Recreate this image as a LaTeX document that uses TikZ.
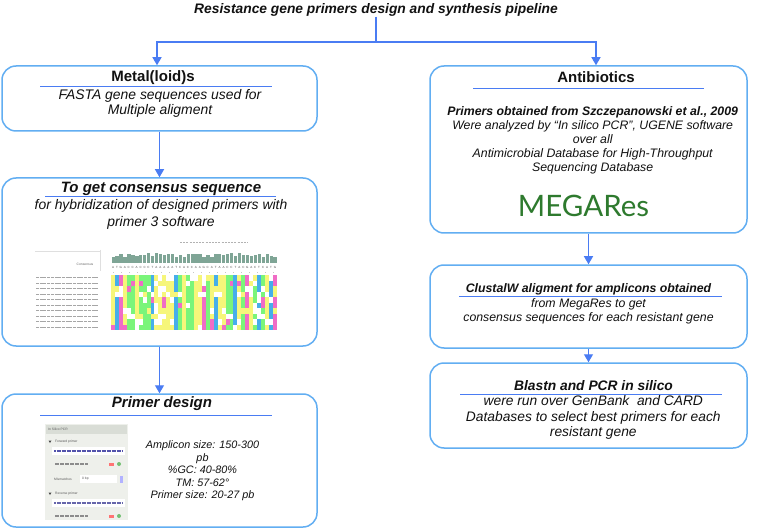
\documentclass[tikz,border=0pt]{standalone}
\usepackage{fontspec}
\setmainfont{Liberation Sans}
\newfontfamily\latofont{Lato}
\usetikzlibrary{arrows.meta}
\definecolor{boxblue}{HTML}{62AEF2}
\definecolor{arrblue}{HTML}{4A7CF3}
\definecolor{megagreen}{HTML}{2E7A2E}
\definecolor{nucA}{HTML}{F6F67A}
\definecolor{nucC}{HTML}{7AF57A}
\definecolor{nucG}{HTML}{F06CC6}
\definecolor{nucT}{HTML}{46AEEA}
\definecolor{barcol}{HTML}{7FA596}
\definecolor{panel}{HTML}{EEF0EB}
\definecolor{panelhead}{HTML}{D9DDD6}
\definecolor{txt}{HTML}{111111}
\newcommand\fsz[2]{\fontsize{#1}{#2}\selectfont}
\newcommand\hashmod[2]{\edef#1{\the\numexpr #2 - 100*((#2-50)/100)\relax}}
\tikzset{
  box/.style={draw=boxblue, line width=1.5pt, rounded corners=14pt, inner sep=0pt, fill=white},
  arr/.style={draw=arrblue, line width=1.3pt, -{Triangle[width=9pt,length=8pt]}},
  conn/.style={draw=arrblue, line width=1.3pt},
  uline/.style={draw=arrblue, line width=1pt},
  txtnode/.style={inner sep=0pt, text=txt, align=center},
  maintitle/.style={txtnode, font=\fsz{13.8}{16}\bfseries\itshape},
  htitle/.style={txtnode, font=\fsz{15}{17}\bfseries},
  htitleI/.style={txtnode, font=\fsz{15}{17}\bfseries\itshape},
  lbody/.style={txtnode, font=\fsz{13.9}{15.3}\itshape},
  rbody/.style={txtnode, font=\fsz{12.3}{14.2}\itshape},
  amp/.style={txtnode, font=\fsz{10.8}{12.5}\itshape},
  tinytxt/.style={inner sep=0pt, text=black!65, font=\fsz{3.3}{4}, anchor=west},
}
\begin{document}
\begin{tikzpicture}[x=1pt,y=-1pt]
\useasboundingbox (0,0) rectangle (757,529);
\fill[white] (0,0) rectangle (757,529);

% ---------- boxes ----------
\node[box, minimum width=315pt, minimum height=65pt]  (metal)   at (159.5,98.5) {};
\node[box, minimum width=315pt, minimum height=168pt] (cons)    at (159.5,262) {};
\node[box, minimum width=315pt, minimum height=133pt] (primer)  at (159.5,460.5) {};
\node[box, minimum width=317pt, minimum height=167pt] (antib)   at (588.5,149.5) {};
\node[box, minimum width=317pt, minimum height=83pt]  (clustal) at (588.5,306.5) {};
\node[box, minimum width=317pt, minimum height=85pt]  (blast)   at (588.5,405.5) {};

% ---------- title and connectors ----------
\node[maintitle] (title) at (376,10) {Resistance gene primers design and synthesis pipeline};
\coordinate (split) at (376,42);
\draw[conn] (title.south) -- (split);
\draw[arr] (split) -| ([xshift=-2.5pt]metal.north);
\draw[arr] (split) -| ([xshift=7.5pt]antib.north);
\draw[arr] (metal) -- (cons);
\draw[arr] (cons) -- (primer);
\draw[arr] (antib) -- (clustal);
\draw[arr] (clustal) -- (blast);

% ---------- Metal(loid)s ----------
\node[htitle] (metalT) at (153,78) {Metal(loid)s};
\draw[uline] (40,87) -- (272,87);
\node[lbody] (metalB) at (160,103.5) {FASTA gene sequences used for\\Multiple aligment};

% ---------- consensus ----------
\node[htitleI] (consT) at (161,189) {To get consensus sequence};
\draw[uline] (45,197) -- (276,197);
\node[lbody, font=\fsz{13.9}{17}\itshape] (consB) at (161,214.5) {for hybridization of designed primers with\\primer 3 software};

% alignment picture
\def\cons{A,T,G,A,C,C,A,C,C,C,T,A,A,A,A,A,T,C,A,C,C,A,A,G,C,A,T,A,A,C,C,T,A,C,G,A,C,T,C,A,T,G}
\draw[gray!60, line width=1pt, dash pattern=on 2pt off 1.2pt] (180,243) -- (248,243);
\draw[gray!25, line width=0.5pt] (35,251.5) -- (100,251.5) (100,250) -- (100,271);
\node[inner sep=0pt, text=black!60, font=\fsz{3.3}{4}] (consLbl) at (85,264) {Consensus};
\foreach \i in {0,...,41} {
  \hashmod\h{(\i*\i*7+\i*13+3)}
  \fill[barcol] ({111.5+\i*3.95},262.5) rectangle ++(3.3,{-(5.5+4.5*\h/100)});
}
\foreach \b [count=\c from 0] in \cons {
  \node[inner sep=0pt, text=black!70, font=\fsz{3}{3}] (cs\c) at ({113+\c*3.95},267.3) {\b};
}
\draw[gray!45, line width=0.8pt, dash pattern=on 1pt off 7pt] (113,272) -- (277,272);
\foreach \r in {0,...,9} {
  \foreach \b [count=\c from 0] in \cons {
    \hashmod\rr{(\c*\c*17+\r*\r*31+\c*\r*7+\r*23+\c*5+\r*\c*\c*3)}
    \ifnum\rr<12 \def\cc{white}\else
      \ifnum\rr<22
        \edef\kk{\the\numexpr\rr-4*((\rr-2)/4)\relax}
        \ifcase\kk \def\cc{nucA}\or\def\cc{nucC}\or\def\cc{nucG}\else\def\cc{nucT}\fi
      \else\def\cc{nuc\b}\fi
    \fi
    \fill[\cc] ({111+\c*3.95},{275+\r*5.5}) rectangle ++(3.95,5.5);
  }
  \draw[black!35, line width=1pt, dash pattern=on 3pt off 0.7pt] (36,{277.7+\r*5.5}) -- (98,{277.7+\r*5.5});
}

% ---------- primer design ----------
\node[htitleI] (primT) at (162,404) {Primer design};
\draw[uline] (40,415) -- (272,415);
\node[amp] (ampl) at (202.5,471) {Amplicon size: 150-300\\pb\\\%GC: 40-80\%\\TM: 57-62°\\Primer size: 20-27 pb};

% screenshot panel
\fill[panel] (45,424) rectangle (128,520);
\fill[panelhead] (46,425) rectangle (127,434);
\node[tinytxt] (scHead) at (48,429.5) {In Silico PCR};
\fill[black!70] (48.5,440.5) -- (51.5,440.5) -- (50,443) -- cycle;
\node[tinytxt] (scFwd) at (55,442) {Forward primer};
\fill[white] (52,447) rectangle (125,455);
\draw[blue!35!gray, line width=1.1pt, dash pattern=on 2pt off 0.5pt] (54,451) -- (123,451);
\draw[black!45, line width=1.1pt, dash pattern=on 4pt off 1pt] (55,464) -- (88,464);
\fill[red!55] (109,462.5) rectangle (114,465.5);
\fill[green!55!black!55] (119,464) circle (2);
\node[tinytxt] (scMis) at (54,479) {Mismatches};
\fill[white] (80,475) rectangle (117,483);
\node[tinytxt] (scBp) at (82,479) {0 bp};
\fill[blue!30] (119.5,475.5) rectangle (122.5,482.5);
\fill[black!70] (48.5,492.5) -- (51.5,492.5) -- (50,495) -- cycle;
\node[tinytxt] (scRev) at (55,494) {Reverse primer};
\fill[white] (52,499) rectangle (125,507);
\draw[blue!45!black!60, line width=1.1pt, dash pattern=on 2pt off 0.5pt] (54,503) -- (123,503);
\draw[black!45, line width=1.1pt, dash pattern=on 4pt off 1pt] (55,516) -- (88,516);
\fill[red!55] (109,514.5) rectangle (114,517.5);
\fill[green!55!black!55] (119,516) circle (2);

% ---------- Antibiotics ----------
\node[htitle] (antibT) at (596,77) {Antibiotics};
\draw[uline] (473,89) -- (704,89);
\node[rbody] (antibB) at (592.7,140.3) {\textbf{Primers obtained from Szczepanowski et al., 2009}\\Were analyzed by “In silico PCR”, UGENE software\\over all\\Antimicrobial Database for High-Throughput\\Sequencing Database};
\node[inner sep=0pt, text=megagreen, font=\latofont\fsz{29.5}{32}] (mega) at (583.5,206) {MEGARes};

% ---------- ClustalW ----------
\node[txtnode, font=\fsz{12.3}{14}\bfseries\itshape] (clT) at (588.5,289) {ClustalW aligment for amplicons obtained};
\draw[uline] (459,296) -- (722,296);
\node[rbody, font=\fsz{12.3}{14}\itshape] (clB) at (588.5,311) {from MegaRes to get\\consensus sequences for each resistant gene};

% ---------- Blastn ----------
\node[txtnode, font=\fsz{13.8}{16}\bfseries\itshape] (blT) at (593.5,386) {Blastn and PCR in silico};
\draw[uline] (460,394) -- (722,394);
\node[txtnode, font=\fsz{13.8}{15.5}\itshape] (blB) at (593.3,417.5) {were run over GenBank~ and CARD\\Databases to select best primers for each\\resistant gene};
\end{tikzpicture}
\end{document}
